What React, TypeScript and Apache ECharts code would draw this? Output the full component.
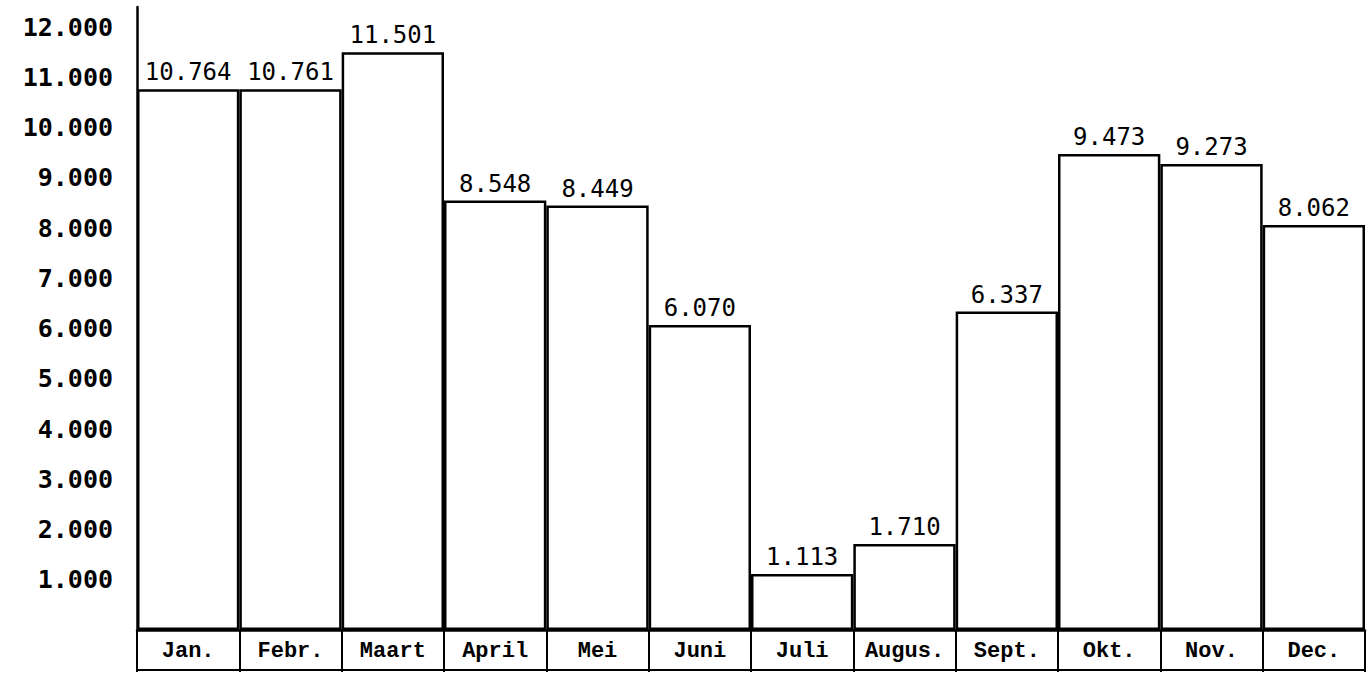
import React, { useEffect, useRef } from "react";
import * as echarts from "echarts";

const months = ["Jan.", "Febr.", "Maart", "April", "Mei", "Juni", "Juli", "Augus.", "Sept.", "Okt.", "Nov.", "Dec."];
const values = [10764, 10761, 11501, 8548, 8449, 6070, 1113, 1710, 6337, 9473, 9273, 8062];
const yTicks = [1000, 2000, 3000, 4000, 5000, 6000, 7000, 8000, 9000, 10000, 11000, 12000];

const fmt = (v: number) => {
  const s = String(Math.round(v));
  return s.replace(/\B(?=(\d{3})+(?!\d))/g, ".");
};

export default function App() {
  const ref = useRef<HTMLDivElement>(null);
  useEffect(() => {
    if (!ref.current) return;
    const chart = echarts.init(ref.current, undefined, { renderer: "svg" });
    chart.setOption({
      animation: false,
      backgroundColor: "#ffffff",
      grid: { left: 137, right: 4, top: 7, bottom: 44 },
      xAxis: [
        {
          type: "category",
          data: months,
          position: "bottom",
          axisLine: { show: true, lineStyle: { color: "#000", width: 2.5 } },
          axisTick: { show: true, interval: 0, length: 42, lineStyle: { color: "#000", width: 2 } },
          axisLabel: {
            interval: 0,
            margin: 10,
            color: "#000",
            fontFamily: "Liberation Mono",
            fontWeight: "bold",
            fontSize: 22,
          },
          splitLine: { show: false },
        },
        {
          type: "category",
          data: months,
          position: "bottom",
          offset: 40,
          axisLine: { show: true, lineStyle: { color: "#000", width: 2 } },
          axisTick: { show: false },
          axisLabel: { show: false },
        },
      ],
      yAxis: {
        type: "value",
        min: 0,
        max: 12400,
        interval: 1000,
        axisLine: { show: true, lineStyle: { color: "#000", width: 2.5 } },
        axisTick: { show: false },
        splitLine: { show: false },
        axisLabel: {
          margin: 24,
          color: "#000",
          fontFamily: "DejaVu Sans Mono",
          fontWeight: "bold",
          fontSize: 25,
          formatter: (v: number) => (yTicks.indexOf(v) >= 0 ? fmt(v) : ""),
        },
      },
      series: [
        {
          type: "bar",
          data: values,
          barWidth: "100%",
          itemStyle: { color: "#ffffff", borderColor: "#000", borderWidth: 2.5 },
          label: {
            show: true,
            position: "top",
            distance: 5,
            color: "#000",
            fontFamily: "DejaVu Sans Mono",
            fontSize: 24,
            formatter: (p: any) => fmt(p.value),
          },
        },
      ],
    });
    return () => chart.dispose();
  }, []);
  return (
    <div
      ref={ref}
      style={{ position: "fixed", left: 0, top: 0, width: 1369, height: 674, background: "#fff" }}
    />
  );
}
